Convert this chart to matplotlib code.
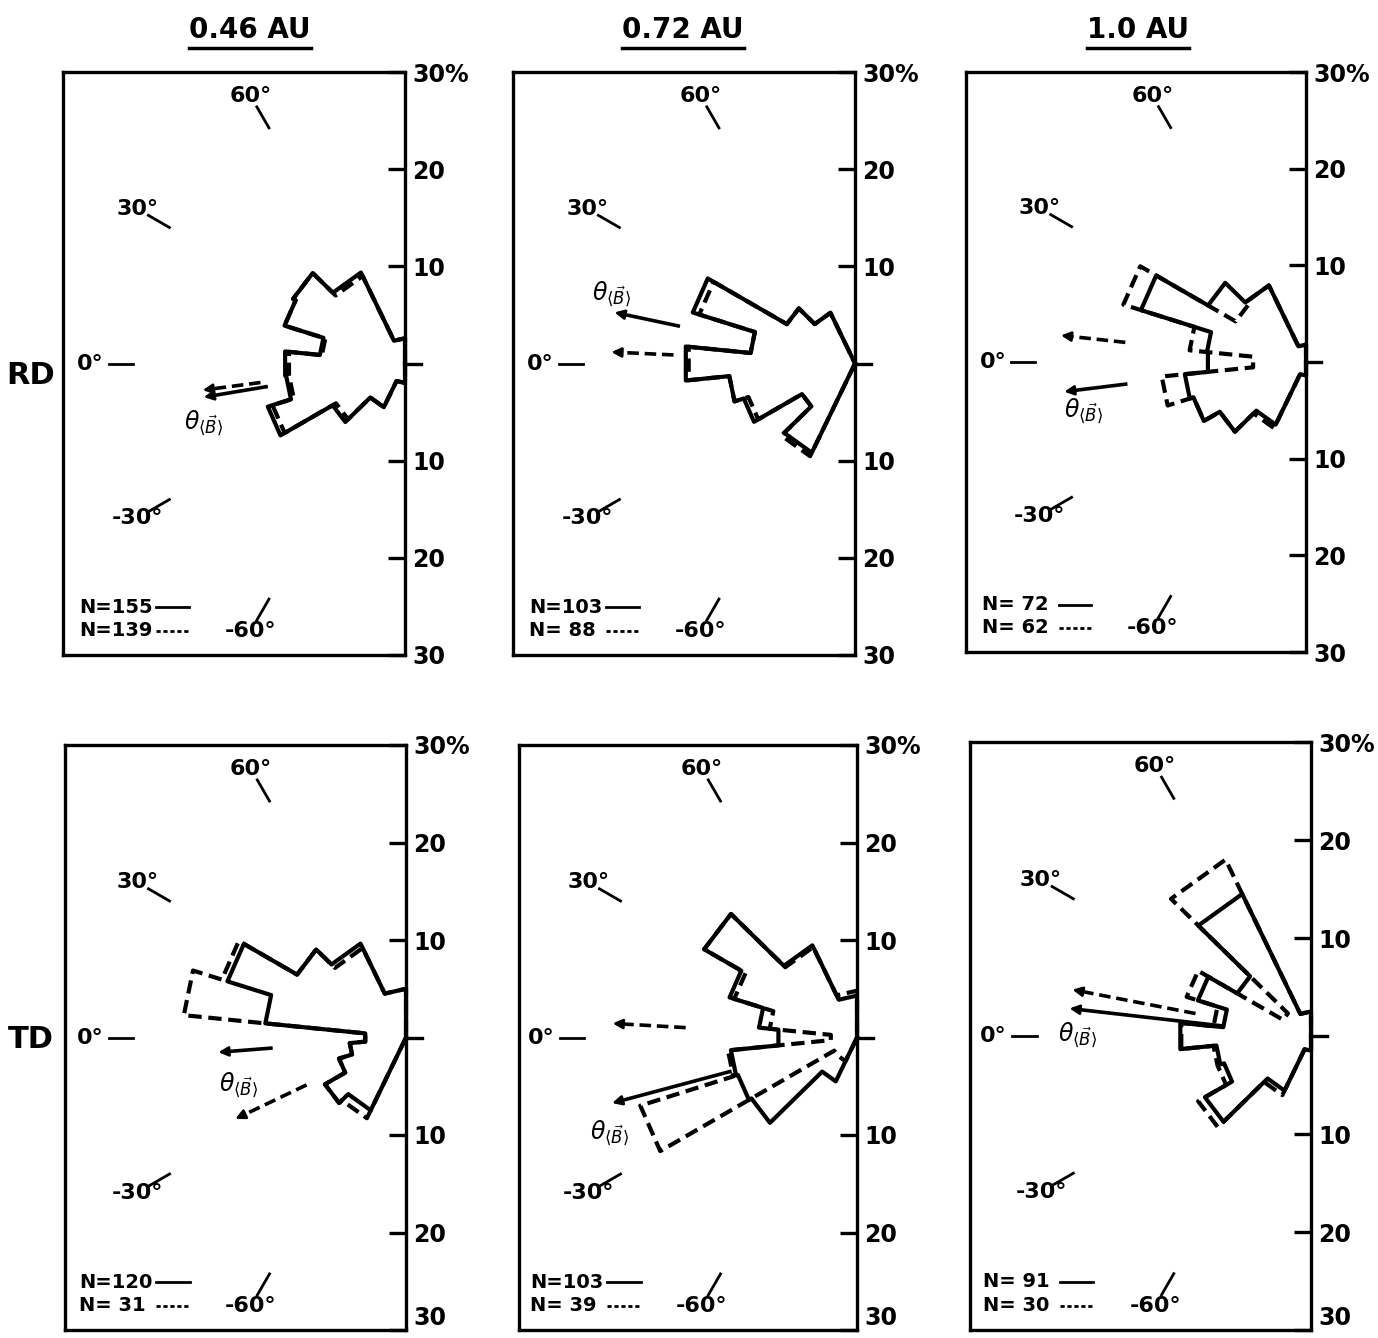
import numpy as np
import matplotlib
matplotlib.use("Agg")
import matplotlib.pyplot as plt
from matplotlib.lines import Line2D

# bin edges are equal steps in sin(theta), 11 bins from -90 to 90 deg
sin_edges = [-1.0, -0.9, -0.7, -0.5, -0.3, -0.1, 0.1, 0.3, 0.5, 0.7, 0.9, 1.0]

titles = ["0.46 AU", "0.72 AU", "1.0 AU"]
row_names = ["RD", "TD"]

# percent per bin, bins ordered from -90 deg up to +90 deg
rd_046_solid = [2.0, 5.0, 8.6, 14.8, 12.3, 12.4, 8.8, 13.0, 13.3, 10.4, 2.6]
rd_046_dash = [2.0, 5.0, 8.2, 14.3, 12.0, 12.0, 8.6, 13.0, 13.3, 10.0, 2.6]
rd_072_solid = [0.0, 10.2, 6.3, 12.0, 13.0, 17.5, 10.8, 17.5, 8.1, 5.8, 0.0]
rd_072_dash = [0.0, 10.6, 6.3, 11.5, 13.0, 17.2, 10.8, 16.8, 8.1, 5.8, 0.0]
rd_10_solid = [1.4, 7.2, 10.3, 12.2, 12.6, 10.2, 10.3, 17.9, 11.7, 8.8, 1.8]
rd_10_dash = [1.4, 7.6, 10.3, 12.2, 15.0, 5.5, 12.1, 19.8, 8.4, 8.8, 1.8]
td_046_solid = [0.0, 8.3, 9.6, 7.2, 5.8, 4.2, 14.5, 19.2, 12.9, 10.7, 5.0]
td_046_dash = [0.0, 9.2, 9.6, 7.2, 5.8, 4.2, 22.9, 19.8, 12.9, 10.2, 5.0]
td_072_solid = [0.0, 5.0, 12.5, 12.8, 13.0, 8.1, 10.1, 13.7, 18.1, 10.5, 4.3]
td_072_dash = [0.0, 2.7, 2.7, 23.3, 13.3, 2.7, 9.0, 13.2, 18.1, 10.3, 4.8]
td_10_solid = [1.5, 6.2, 12.5, 9.3, 9.7, 13.4, 9.0, 12.1, 8.7, 16.1, 2.5]
td_10_dash = [1.5, 6.7, 13.3, 10.0, 10.0, 13.3, 10.0, 13.3, 3.3, 20.0, 2.5]

n_solid = [155, 103, 72, 120, 103, 91]
n_dash = [139, 88, 62, 31, 39, 30]

# mean field direction (deg) and radial extent of the arrows (percent)
mean_solid = [-9.5, 12.0, -7.0, -4.5, -15.0, 6.5]
mean_dash = [-7.5, 2.7, 6.2, -25.5, 3.3, 11.0]
arrow_solid_r = [(14.5, 21.0), (18.6, 25.3), (18.8, 25.2), (13.9, 19.3), (13.5, 26.0), (9.0, 24.8)]
arrow_dash_r = [(15.0, 21.0), (18.7, 25.1), (18.8, 25.5), (11.3, 19.4), (17.6, 25.1), (12.0, 24.8)]
theta_label_xy = [(-20.7, -6.1), (-25.1, 7.2), (-23.0, -5.0), (-17.2, -4.8), (-25.4, -9.8), (-23.8, 0.1)]

angle_marks = [60, 30, 0, -30, -60]
radial_ticks = [-30, -20, -10, 10, 20, 30]
radial_labels = ["30", "20", "10", "10", "20", "30%"]

W, H = 1378, 1338
# panel boxes in pixels: left, right, top, bottom
boxes = [(63, 405, 72, 655), (513, 855, 72, 655), (966, 1306, 72, 652),
         (65, 406, 745, 1330), (519, 857, 745, 1330), (970, 1311, 742, 1330)]

solids = [rd_046_solid, rd_072_solid, rd_10_solid, td_046_solid, td_072_solid, td_10_solid]
dashes = [rd_046_dash, rd_072_dash, rd_10_dash, td_046_dash, td_072_dash, td_10_dash]

LW = 3.0
DASH = (0, (3.2, 1.6))


def polar(r, a):
    a = np.radians(a)
    return -r * np.cos(a), r * np.sin(a)


def rose(ax, vals, edges, ls):
    xs, ys = [0.0], [0.0]
    for i, r in enumerate(vals):
        for a in (edges[i], edges[i + 1]):
            x, y = polar(r, a)
            xs.append(x)
            ys.append(y)
    xs.append(0.0)
    ys.append(0.0)
    ax.plot(xs, ys, color="black", lw=LW, ls=ls, solid_joinstyle="round",
            dash_capstyle="butt", clip_on=False, zorder=3)


def arrow(ax, theta, r0, r1, ls):
    x0, y0 = polar(r0, theta)
    x1, y1 = polar(r1 - 1.0, theta)
    xh, yh = polar(r1, theta)
    ax.plot([x0, x1], [y0, y1], color="black", lw=2.6, ls=ls, dash_capstyle="butt")
    ax.annotate("", xy=(xh, yh), xytext=(x1, y1),
                arrowprops=dict(arrowstyle="-|>", color="black", lw=2.0,
                                mutation_scale=14, shrinkA=0, shrinkB=0))


edges = np.degrees(np.arcsin(sin_edges))

fig = plt.figure(figsize=(W / 100, H / 100), dpi=100)
fig.patch.set_facecolor("white")

for k, (l, r, t, b) in enumerate(boxes):
    ax = fig.add_axes([l / W, 1 - b / H, (r - l) / W, (b - t) / H])
    ax.set_xlim(-60.0 * (r - l) / (b - t), 0)
    ax.set_ylim(-30, 30)
    ax.set_xticks([])
    for s in ax.spines.values():
        s.set_linewidth(2.4)
    ax.yaxis.tick_right()
    ax.set_yticks(radial_ticks)
    ax.set_yticklabels(radial_labels, fontsize=17, fontweight="bold")
    ax.tick_params(axis="y", direction="in", length=12, width=2.4, pad=5)
    if k >= 3:
        # keep the lowest label inside the figure
        ax.get_yticklabels()[0].set_va("bottom")
    ax.plot([0, 1.6], [0, 0], color="black", lw=2.4, clip_on=False)

    # angle marks around the edge
    for a in angle_marks:
        xa, ya = polar(28.0, a)
        xb, yb = polar(30.5, a)
        ax.plot([xa, xb], [ya, yb], color="black", lw=2.0)
        lab = "0°" if a == 0 else f"{a}°"
        xl, yl = polar(32.4 if a == 0 else 31.8, a)
        ax.text(xl, yl, lab, fontsize=16, fontweight="bold", ha="center", va="center")

    rose(ax, dashes[k], edges, DASH)
    rose(ax, solids[k], edges, "-")

    arrow(ax, mean_dash[k], *arrow_dash_r[k], DASH)
    arrow(ax, mean_solid[k], *arrow_solid_r[k], "-")
    tx, ty = theta_label_xy[k]
    ax.text(tx, ty, r"$\theta_{\langle\vec{B}\rangle}$", fontsize=17, ha="center", va="center")

    # sample counts
    ax.text(-33.5, -25.1, f"N={n_solid[k]:3d}", fontsize=14, fontweight="bold", va="center")
    ax.text(-33.5, -27.5, f"N={n_dash[k]:3d}", fontsize=14, fontweight="bold", va="center")
    ax.plot([-25.6, -22.2], [-25.1, -25.1], color="black", lw=2.0)
    ax.plot([-25.6, -22.2], [-27.5, -27.5], color="black", lw=2.0, ls=(0, (1.5, 1.0)))

fig.canvas.draw()
renderer = fig.canvas.get_renderer()
for x, txt in zip([250, 683, 1138], titles):
    t = fig.text(x / W, 1 - 30 / H, txt, fontsize=20, fontweight="bold", ha="center", va="center")
    bb = t.get_window_extent(renderer=renderer)
    y = (bb.y0 - 4) / H
    fig.add_artist(Line2D([bb.x0 / W, bb.x1 / W], [y, y], color="black", lw=2.5))

for y, name in zip([375, 1040], row_names):
    fig.text(31 / W, 1 - y / H, name, fontsize=22, fontweight="bold", ha="center", va="center")

fig.savefig("out.png", dpi=100, facecolor="white")
